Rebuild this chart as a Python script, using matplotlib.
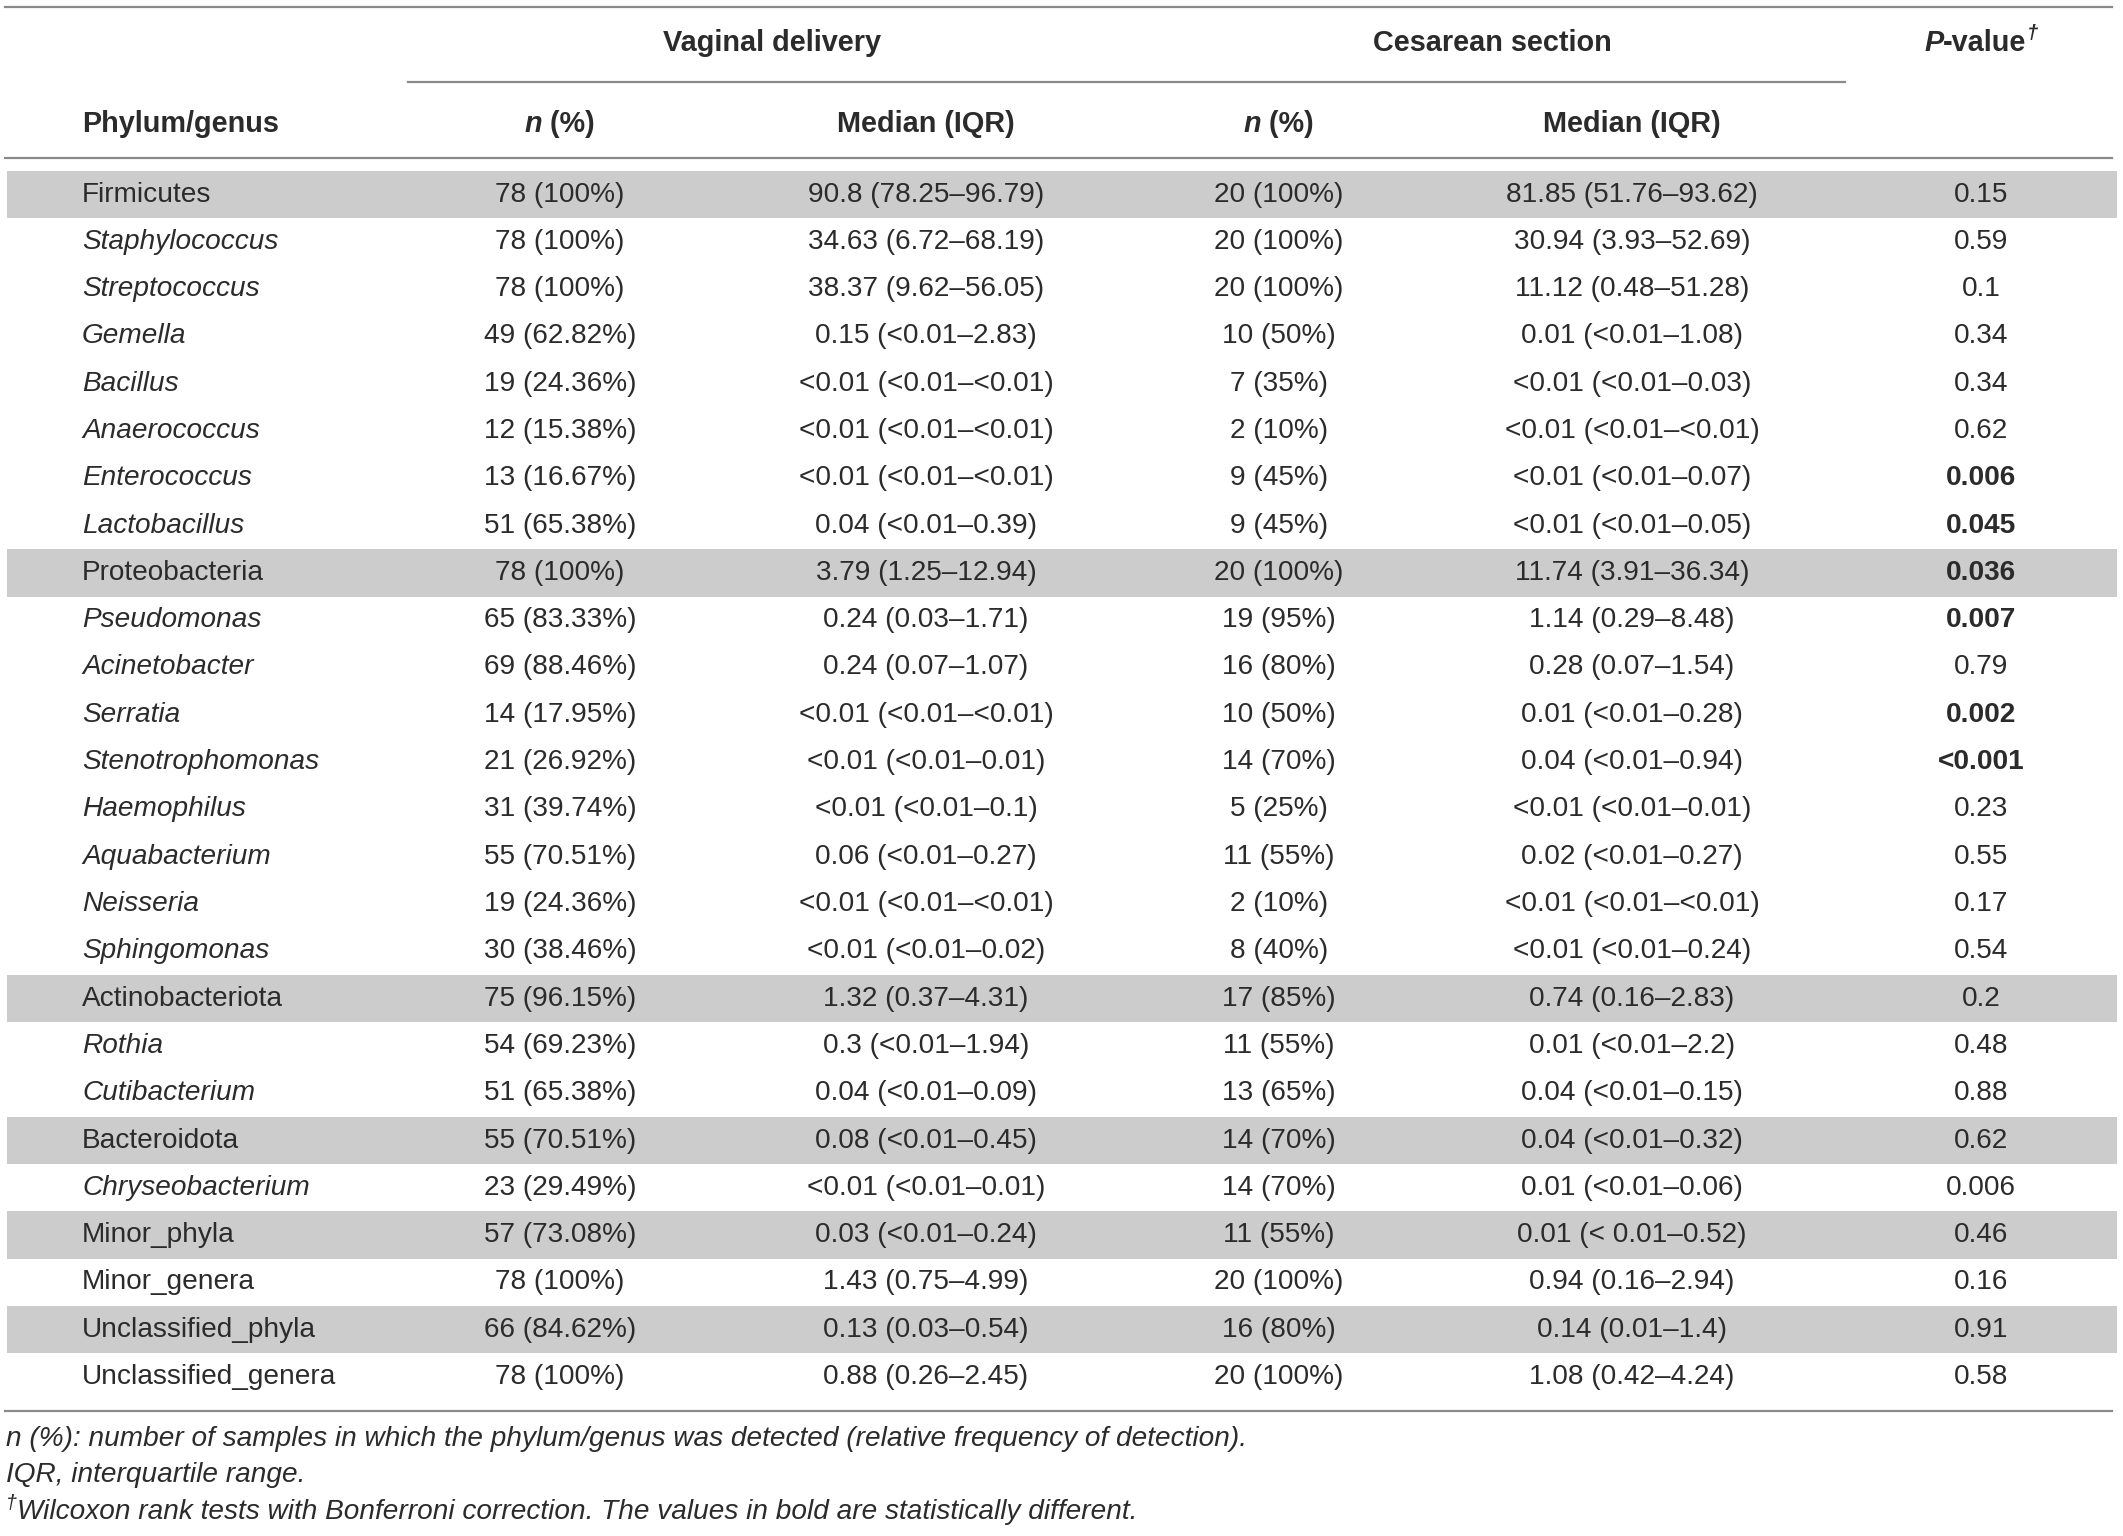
import matplotlib
matplotlib.use("Agg")
import matplotlib.pyplot as plt

names = ["Firmicutes", "Staphylococcus", "Streptococcus", "Gemella", "Bacillus",
         "Anaerococcus", "Enterococcus", "Lactobacillus", "Proteobacteria",
         "Pseudomonas", "Acinetobacter", "Serratia", "Stenotrophomonas",
         "Haemophilus", "Aquabacterium", "Neisseria", "Sphingomonas",
         "Actinobacteriota", "Rothia", "Cutibacterium", "Bacteroidota",
         "Chryseobacterium", "Minor_phyla", "Minor_genera",
         "Unclassified_phyla", "Unclassified_genera"]
is_phylum = [1, 0, 0, 0, 0, 0, 0, 0, 1, 0, 0, 0, 0, 0, 0, 0, 0, 1, 0, 0, 1, 0, 1, 0, 1, 0]
is_italic = [0, 1, 1, 1, 1, 1, 1, 1, 0, 1, 1, 1, 1, 1, 1, 1, 1, 0, 1, 1, 0, 1, 0, 0, 0, 0]
vd_n = ["78 (100%)", "78 (100%)", "78 (100%)", "49 (62.82%)", "19 (24.36%)",
        "12 (15.38%)", "13 (16.67%)", "51 (65.38%)", "78 (100%)", "65 (83.33%)",
        "69 (88.46%)", "14 (17.95%)", "21 (26.92%)", "31 (39.74%)", "55 (70.51%)",
        "19 (24.36%)", "30 (38.46%)", "75 (96.15%)", "54 (69.23%)", "51 (65.38%)",
        "55 (70.51%)", "23 (29.49%)", "57 (73.08%)", "78 (100%)", "66 (84.62%)",
        "78 (100%)"]
vd_med = ["90.8 (78.25–96.79)", "34.63 (6.72–68.19)", "38.37 (9.62–56.05)",
          "0.15 (<0.01–2.83)", "<0.01 (<0.01–<0.01)", "<0.01 (<0.01–<0.01)",
          "<0.01 (<0.01–<0.01)", "0.04 (<0.01–0.39)", "3.79 (1.25–12.94)",
          "0.24 (0.03–1.71)", "0.24 (0.07–1.07)", "<0.01 (<0.01–<0.01)",
          "<0.01 (<0.01–0.01)", "<0.01 (<0.01–0.1)", "0.06 (<0.01–0.27)",
          "<0.01 (<0.01–<0.01)", "<0.01 (<0.01–0.02)", "1.32 (0.37–4.31)",
          "0.3 (<0.01–1.94)", "0.04 (<0.01–0.09)", "0.08 (<0.01–0.45)",
          "<0.01 (<0.01–0.01)", "0.03 (<0.01–0.24)", "1.43 (0.75–4.99)",
          "0.13 (0.03–0.54)", "0.88 (0.26–2.45)"]
cs_n = ["20 (100%)", "20 (100%)", "20 (100%)", "10 (50%)", "7 (35%)", "2 (10%)",
        "9 (45%)", "9 (45%)", "20 (100%)", "19 (95%)", "16 (80%)", "10 (50%)",
        "14 (70%)", "5 (25%)", "11 (55%)", "2 (10%)", "8 (40%)", "17 (85%)",
        "11 (55%)", "13 (65%)", "14 (70%)", "14 (70%)", "11 (55%)", "20 (100%)",
        "16 (80%)", "20 (100%)"]
cs_med = ["81.85 (51.76–93.62)", "30.94 (3.93–52.69)", "11.12 (0.48–51.28)",
          "0.01 (<0.01–1.08)", "<0.01 (<0.01–0.03)", "<0.01 (<0.01–<0.01)",
          "<0.01 (<0.01–0.07)", "<0.01 (<0.01–0.05)", "11.74 (3.91–36.34)",
          "1.14 (0.29–8.48)", "0.28 (0.07–1.54)", "0.01 (<0.01–0.28)",
          "0.04 (<0.01–0.94)", "<0.01 (<0.01–0.01)", "0.02 (<0.01–0.27)",
          "<0.01 (<0.01–<0.01)", "<0.01 (<0.01–0.24)", "0.74 (0.16–2.83)",
          "0.01 (<0.01–2.2)", "0.04 (<0.01–0.15)", "0.04 (<0.01–0.32)",
          "0.01 (<0.01–0.06)", "0.01 (< 0.01–0.52)", "0.94 (0.16–2.94)",
          "0.14 (0.01–1.4)", "1.08 (0.42–4.24)"]
p_vals = ["0.15", "0.59", "0.1", "0.34", "0.34", "0.62", "0.006", "0.045", "0.036",
          "0.007", "0.79", "0.002", "<0.001", "0.23", "0.55", "0.17", "0.54", "0.2",
          "0.48", "0.88", "0.62", "0.006", "0.46", "0.16", "0.91", "0.58"]
p_bold = [0, 0, 0, 0, 0, 0, 1, 1, 1, 1, 0, 1, 1, 0, 0, 0, 0, 0, 0, 0, 0, 0, 0, 0, 0, 0]

footnotes = [
    [("n (%): number of samples in which the phylum/genus was detected (relative frequency of detection).", "italic", False)],
    [("IQR, interquartile range.", "italic", False)],
    [("†", "italic", True),
     ("Wilcoxon rank tests with Bonferroni correction. The values in bold are statistically different.", "italic", False)],
]

plt.rcParams['font.family'] = ['Liberation Sans', 'DejaVu Sans']
W, H = 2123, 1536
FS = 20.2
FS_HEAD = 20.8
TXT = '#2b2b2b'
RULE = '#8a8a8a'
SHADE = '#cccccc'

fig = plt.figure(figsize=(W / 100, H / 100), dpi=100)
ax = fig.add_axes([0, 0, 1, 1])
ax.set_xlim(0, W)
ax.set_ylim(H, 0)
ax.axis('off')
fig.canvas.draw()
renderer = fig.canvas.get_renderer()


def runs_text(x, y, runs, ha='center', size=FS):
    # runs: (text, style, weight[, superscript])
    pieces = []
    total = 0
    for r in runs:
        txt, style, weight = r[0], r[1], r[2]
        sup = r[3] if len(r) > 3 else False
        t = ax.text(0, y, txt, fontsize=size * (0.7 if sup else 1), fontstyle=style,
                    fontweight=weight, color=TXT, va='center', ha='left')
        bb = t.get_window_extent(renderer)
        pieces.append((t, bb.width, sup))
        total += bb.width
    cx = x - total / 2 if ha == 'center' else x
    for t, w, sup in pieces:
        t.set_x(cx)
        if sup:
            t.set_y(y - 9)
        cx += w


col_x = [82, 560, 926, 1279, 1632, 1981]
row0, step = 194.5, 47.3

# rules
ax.plot([5, 2112], [7, 7], color=RULE, lw=1.6)
ax.plot([408, 1845], [82, 82], color=RULE, lw=1.6)
ax.plot([5, 2112], [158, 158], color=RULE, lw=1.6)
ax.plot([5, 2112], [1411, 1411], color=RULE, lw=1.6)

# headers
ax.text(772, 43, "Vaginal delivery", fontsize=FS_HEAD, fontweight='bold', color=TXT, ha='center', va='center')
ax.text(1492, 43, "Cesarean section", fontsize=FS_HEAD, fontweight='bold', color=TXT, ha='center', va='center')
runs_text(1981, 43, [("P", "italic", "bold"), ("-value", "normal", "bold"), ("†", "italic", "bold", True)],
          size=FS_HEAD)
ax.text(col_x[0], 124, "Phylum/genus", fontsize=FS_HEAD, fontweight='bold', color=TXT, ha='left', va='center')
for cx in (col_x[1], col_x[3]):
    runs_text(cx, 124, [("n", "italic", "bold"), (" (%)", "normal", "bold")], size=FS_HEAD)
for cx in (col_x[2], col_x[4]):
    ax.text(cx, 124, "Median (IQR)", fontsize=FS_HEAD, fontweight='bold', color=TXT, ha='center', va='center')

# body
for i, name in enumerate(names):
    y = row0 + step * i
    if is_phylum[i]:
        ax.fill_between([7, 2117], y - step / 2, y + step / 2, color=SHADE, lw=0)
    ax.text(col_x[0], y, name, fontsize=FS, color=TXT, ha='left', va='center',
            fontstyle='italic' if is_italic[i] else 'normal')
    for cx, vals in zip(col_x[1:5], (vd_n, vd_med, cs_n, cs_med)):
        ax.text(cx, y, vals[i], fontsize=FS, color=TXT, ha='center', va='center')
    ax.text(col_x[5], y, p_vals[i], fontsize=FS, color=TXT, ha='center', va='center',
            fontweight='bold' if p_bold[i] else 'normal')

# footnotes
for k, line in enumerate(footnotes):
    y = 1439 + 36.5 * k
    runs_text(6, y, [(t, s, 'normal', sup) for t, s, sup in line], ha='left', size=FS)

fig.savefig("out.png", dpi=100, facecolor='white')
